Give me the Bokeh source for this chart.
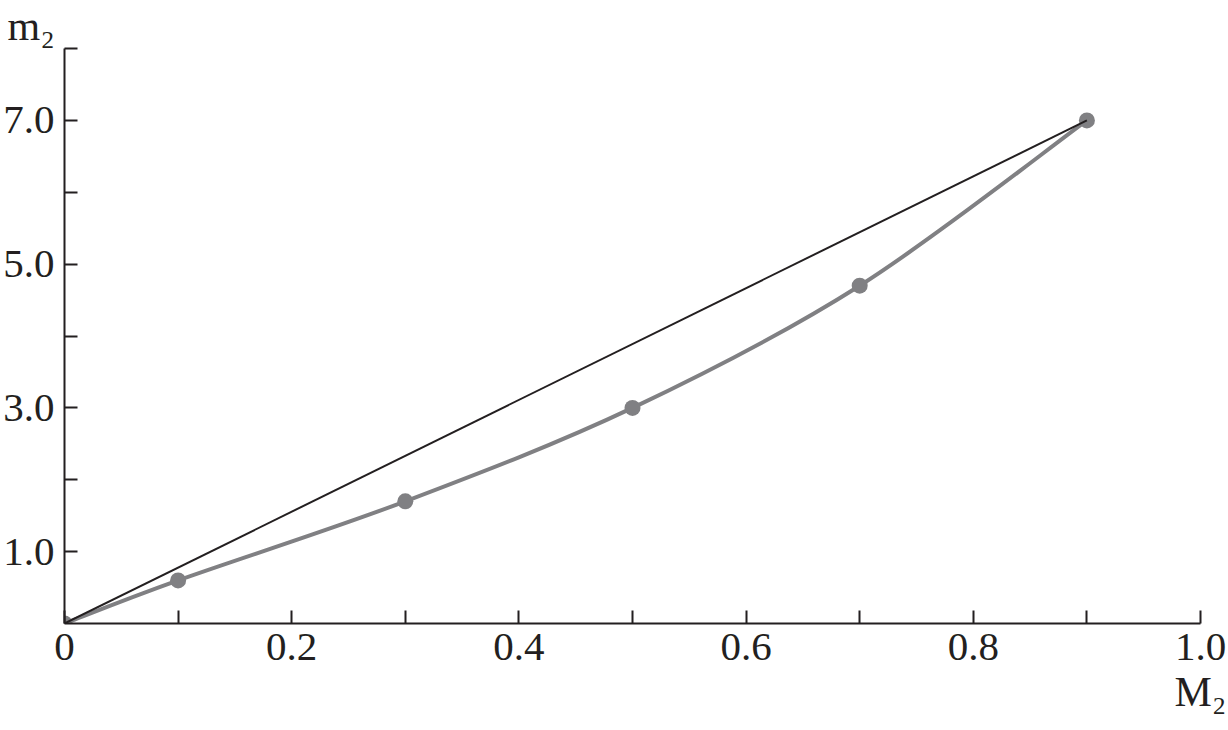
from bokeh.plotting import figure
from bokeh.models import FixedTicker, Range1d, Title
from bokeh.embed import file_html
from bokeh.resources import INLINE

# data
M2 = [0.0, 0.1, 0.3, 0.5, 0.7, 0.9]
m2 = [0.0, 0.6, 1.7, 3.0, 4.7, 7.0]
line_x = [0.0, 0.9]
line_y = [0.0, 7.0]
x_ticks = [0.0, 0.1, 0.2, 0.3, 0.4, 0.5, 0.6, 0.7, 0.8, 0.9, 1.0]
x_labels = {0.0: "0", 0.2: "0.2", 0.4: "0.4", 0.6: "0.6", 0.8: "0.8", 1.0: "1.0"}
y_ticks = [1, 2, 3, 4, 5, 6, 7, 8]
y_labels = {1: "1.0", 3: "3.0", 5: "5.0", 7: "7.0"}

AX = "#231f20"
GRAY = "#808083"
FONT = "Liberation Serif"

W, H = 1228, 730
p = figure(width=W, height=H, output_backend="svg", toolbar_location=None,
           x_range=Range1d(0, 1.0), y_range=Range1d(0, 8.0),
           min_border_left=64, min_border_right=W - 1200,
           min_border_top=45, min_border_bottom=H - 623)
p.outline_line_color = None
p.grid.grid_line_color = None
p.background_fill_color = "white"
p.border_fill_color = "white"

for ax, ticks, labs in ((p.xaxis[0], x_ticks, x_labels), (p.yaxis[0], y_ticks, y_labels)):
    ax.ticker = FixedTicker(ticks=ticks)
    ax.major_label_overrides = {t: labs.get(t, "") for t in ticks}
    ax.axis_line_color = AX
    ax.axis_line_width = 2
    ax.major_tick_line_color = AX
    ax.major_tick_line_width = 2
    ax.major_tick_in = 13
    ax.major_tick_out = 0
    ax.minor_tick_line_color = None
    ax.major_label_text_font = FONT
    ax.major_label_text_font_size = "41px"
    ax.major_label_text_color = AX
p.xaxis.major_label_standoff = 10
p.yaxis.major_label_standoff = 10

# smooth curve through points (Catmull-Rom -> Bezier)
n = len(M2)
x0s, y0s, x1s, y1s, cx0, cy0, cx1, cy1 = [], [], [], [], [], [], [], []
for i in range(n - 1):
    pa = (M2[max(i - 1, 0)], m2[max(i - 1, 0)])
    pb = (M2[i], m2[i])
    pc = (M2[i + 1], m2[i + 1])
    pd = (M2[min(i + 2, n - 1)], m2[min(i + 2, n - 1)])
    x0s.append(pb[0]); y0s.append(pb[1])
    x1s.append(pc[0]); y1s.append(pc[1])
    cx0.append(pb[0] + (pc[0] - pa[0]) / 6); cy0.append(pb[1] + (pc[1] - pa[1]) / 6)
    cx1.append(pc[0] - (pd[0] - pb[0]) / 6); cy1.append(pc[1] - (pd[1] - pb[1]) / 6)
p.bezier(x0=x0s, y0=y0s, x1=x1s, y1=y1s, cx0=cx0, cy0=cy0, cx1=cx1, cy1=cy1,
         line_color=GRAY, line_width=4)

p.scatter(M2, m2, size=16, fill_color=GRAY, line_color=None)
p.line(line_x, line_y, line_color=AX, line_width=2)

# axis titles
t_top = Title(text="m₂", align="left", offset=-57, standoff=0,
              text_font=FONT, text_font_size="42px", text_font_style="normal",
              text_color=AX)
p.add_layout(t_top, "above")
t_bot = Title(text="M₂", align="right", offset=-26, standoff=8,
              text_font=FONT, text_font_size="42px", text_font_style="normal",
              text_color=AX)
p.add_layout(t_bot, "below")

open("out.html", "w").write(file_html(p, INLINE))
